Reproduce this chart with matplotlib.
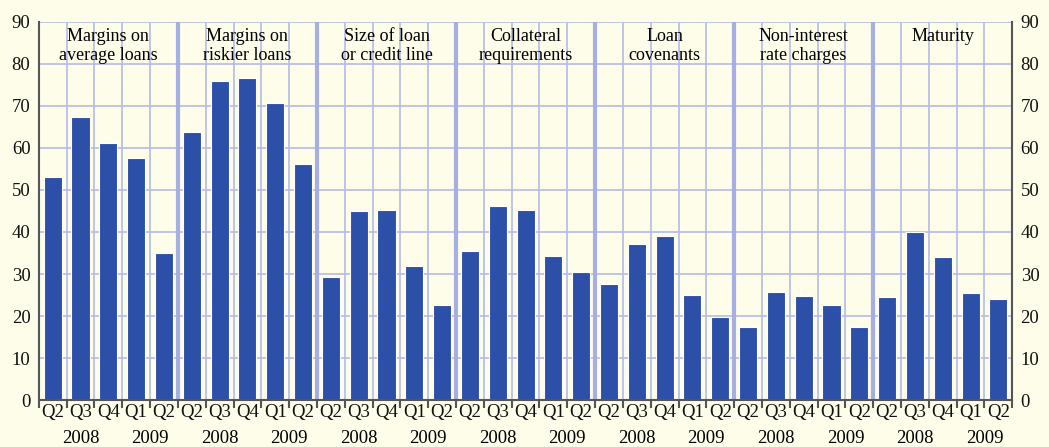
import numpy as np
import matplotlib.pyplot as plt
from matplotlib.transforms import blended_transform_factory

plt.rcParams['font.family'] = ['Liberation Serif', 'DejaVu Serif']

groups = ["Margins on\naverage loans", "Margins on\nriskier loans", "Size of loan\nor credit line",
          "Collateral\nrequirements", "Loan\ncovenants", "Non-interest\nrate charges", "Maturity"]
quarters = ["Q2", "Q3", "Q4", "Q1", "Q2"]
margins_avg = [53.2, 67.3, 61.2, 57.7, 35.0]
margins_risk = [63.8, 75.9, 76.6, 70.7, 56.1]
size_loan = [29.2, 45.1, 45.3, 32.0, 22.7]
collateral = [35.4, 46.1, 45.3, 34.4, 30.4]
covenants = [27.6, 37.1, 39.1, 25.0, 19.8]
non_interest = [17.4, 25.7, 24.8, 22.7, 17.4]
maturity = [24.6, 39.9, 34.0, 25.4, 24.1]
series = [margins_avg, margins_risk, size_loan, collateral, covenants, non_interest, maturity]

bg = '#FDFDE9'
grid_c = '#B4BCE8'
bar_c = '#2C4FA8'
spine_c = '#555555'

values = np.concatenate(series)
n = len(values)
x = np.arange(n)

fig = plt.figure(figsize=(10.49, 4.47), dpi=100, facecolor=bg)
ax = fig.add_axes([0.037, 0.105, 0.928, 0.846], facecolor=bg)

ax.set_xlim(-0.5, n - 0.5)
ax.set_ylim(0, 90)

# grid: thin lines between quarters, thicker ones between groups
for yv in range(10, 91, 10):
    ax.axhline(yv, color=grid_c, lw=1.2, zorder=0)
for k in range(1, n):
    b = k - 0.5
    if k % 5 == 0:
        ax.axvline(b, color='#A6AEE2', lw=3, zorder=0)
    else:
        ax.axvline(b, color=grid_c, lw=1.2, zorder=0)

ax.bar(x, values, width=0.65, color=bar_c, edgecolor='white', linewidth=0.8, zorder=2)

for i, g in enumerate(groups):
    ax.text(i * 5 + 2, 88.5, g, ha='center', va='top', fontsize=13, linespacing=1.15, zorder=3)

ax.spines['top'].set_visible(False)
for s in ['left', 'right', 'bottom']:
    ax.spines[s].set_color(spine_c)
    ax.spines[s].set_linewidth(1.5)

ax.set_yticks(range(0, 91, 10))
ax.tick_params(axis='y', which='both', length=0, labelsize=13.5, pad=6,
               labelleft=True, labelright=True, colors='#111111')

ax.set_xticks(x)
ax.set_xticklabels(quarters * len(groups), fontsize=13.5)
ax.set_xticks(np.arange(-0.5, n, 1), minor=True)
ax.tick_params(axis='x', which='major', length=0, pad=3, colors='#111111')
ax.tick_params(axis='x', which='minor', length=6, width=1.5, color=spine_c, direction='out')

trans = blended_transform_factory(ax.transData, ax.transAxes)
for i in range(len(groups)):
    ax.text(i * 5 + 1, -0.078, "2008", transform=trans, ha='center', va='top', fontsize=13.5)
    ax.text(i * 5 + 3.5, -0.078, "2009", transform=trans, ha='center', va='top', fontsize=13.5)

fig.savefig('out.png', dpi=100, facecolor=bg)
